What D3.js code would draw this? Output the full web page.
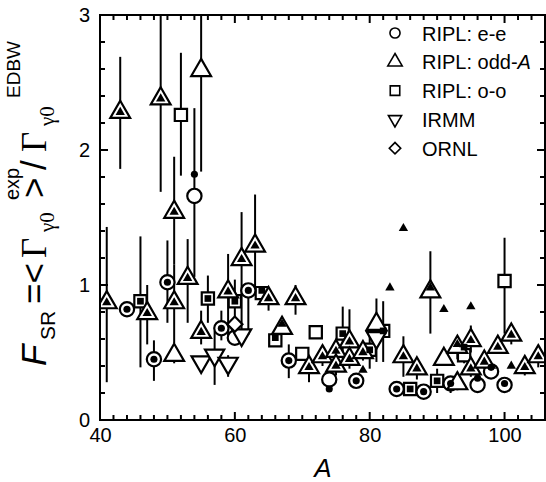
<!DOCTYPE html>
<html>
<head>
<meta charset="utf-8">
<script src="https://cdn.jsdelivr.net/npm/d3@7"></script>
<style>
  body { margin: 0; background: #fff; }
  svg { font-family: "Liberation Sans", Arial, Helvetica, sans-serif; }
</style>
</head>
<body>
<div id="vis"></div>
<script>
// RIPL e-e (open circles)
const EE_A  = [44, 48, 50, 54, 58, 60, 62, 68, 74, 78, 84, 88, 92, 96, 98, 100];
const EE_V  = [0.82, 0.45, 1.02, 1.66, 0.68, 0.61, 0.96, 0.44, 0.30, 0.29, 0.23, 0.21, 0.27, 0.26, 0.36, 0.26];
const EE_LO = [null, 0.29, 0.72, 1.06, 0.59, null, 0.63, 0.31, 0.23, 0.24, 0.19, 0.17, 0.20, null, 0.32, null];
const EE_HI = [null, 0.59, 1.33, 2.31, 0.81, null, 0.96, 0.56, 0.30, 0.33, 0.26, 0.23, 0.30, null, 0.39, null];

// RIPL odd-A (open triangles)
const ODD_A  = [41, 43, 47, 49, 51, 51, 51, 53, 55, 55, 59, 61, 63, 65, 67, 69, 71, 73, 75, 75, 77, 77, 79, 81, 85, 87, 89, 91, 93, 93, 95, 95, 97, 99, 101, 103, 105];
const ODD_V  = [0.87, 2.28, 0.79, 2.38, 1.54, 0.87, 0.48, 1.05, 2.59, 0.65, 0.95, 1.19, 1.29, 0.90, 0.68, 0.90, 0.39, 0.47, 0.51, 0.40, 0.58, 0.45, 0.50, 0.71, 0.47, 0.38, 0.95, 0.45, 0.54, 0.27, 0.59, 0.38, 0.43, 0.54, 0.63, 0.39, 0.47];
const ODD_LO = [0.28, 1.86, 0.56, 1.69, 1.15, 0.57, 0.42, 0.72, 1.84, 0.56, 0.62, 0.64, 0.94, 0.81, 0.68, 0.78, 0.28, 0.40, 0.42, 0.33, 0.45, 0.38, 0.44, 0.43, 0.32, 0.30, 0.64, 0.40, 0.45, 0.22, 0.50, 0.32, 0.38, 0.49, 0.56, 0.33, 0.39];
const ODD_HI = [1.43, 2.69, 1.00, 3.10, 1.95, 1.15, 0.48, 1.34, 3.10, 0.81, 1.23, 1.54, 1.67, 0.90, 0.77, 1.00, 0.39, 0.55, 0.60, 0.45, 0.82, 0.50, 0.56, 0.90, 0.62, 0.43, 1.25, 0.45, 0.57, 0.30, 0.70, 0.42, 0.45, 0.56, 0.63, 0.39, 0.50];

// RIPL o-o (open squares)
const OO_A  = [46, 52, 56, 60, 64, 66, 70, 72, 76, 80, 82, 86, 90, 94, 100];
const OO_V  = [0.88, 2.26, 0.90, 0.88, 0.94, 0.59, 0.49, 0.65, 0.64, 0.52, 0.66, 0.23, 0.29, 0.48, 1.03];
const OO_LO = [0.39, 1.81, 0.72, 0.74, null, null, null, 0.65, 0.45, 0.38, 0.43, null, 0.20, 0.42, 0.64];
const OO_HI = [1.36, 2.72, 1.07, 1.04, null, null, null, 0.70, 0.84, 0.62, 0.88, null, 0.38, 0.54, 1.35];

// IRMM (open down triangles)
const IRMM_A  = [55, 57, 59, 61, 81];
const IRMM_V  = [0.43, 0.48, 0.42, 0.63, 0.61];
const IRMM_LO = [null, 0.26, 0.32, null, null];
const IRMM_HI = [null, 0.66, 0.48, null, null];

// ORNL (open diamonds)
const ORNL_A = [60];
const ORNL_V = [0.71];

// small filled markers
const FTRI_A = [41, 43, 47, 49, 51, 51, 53, 55, 59, 61, 63, 65, 67, 69, 71, 73, 75, 75, 77, 77, 79, 79, 83, 85, 85, 87, 89, 91, 93, 95, 95, 95, 97, 99, 101, 101, 103, 105];
const FTRI_V = [0.87, 2.28, 0.79, 2.38, 1.54, 0.87, 1.05, 0.65, 0.95, 1.19, 1.29, 0.90, 0.71, 0.90, 0.39, 0.47, 0.51, 0.40, 0.58, 0.45, 0.50, 0.37, 0.98, 1.42, 0.47, 0.38, 0.98, 0.82, 0.56, 0.84, 0.59, 0.38, 0.43, 0.54, 0.63, 0.40, 0.39, 0.47];
const FCIR_A = [44, 48, 50, 54, 58, 62, 68, 74, 78, 84, 88, 92, 96, 98, 100];
const FCIR_V = [0.82, 0.45, 1.02, 1.82, 0.68, 0.96, 0.44, 0.23, 0.29, 0.23, 0.21, 0.27, 0.31, 0.39, 0.27];
const FSQ_A = [46, 56, 60, 64, 66, 76, 80, 82, 86, 90, 94];
const FSQ_V = [0.88, 0.90, 0.88, 0.96, 0.61, 0.64, 0.52, 0.66, 0.23, 0.29, 0.54];

const X_TICKS = [40, 60, 80, 100];
const Y_TICKS = [0, 1, 2, 3];
const LEGEND = ["RIPL: e-e", "RIPL: odd-", "RIPL: o-o", "IRMM", "ORNL"];

const WIDTH = 546, HEIGHT = 482;
const X = d3.scaleLinear().domain([40, 106]).range([100, 545]);
const Y = d3.scaleLinear().domain([0, 3]).range([420, 15]);

const svg = d3.select("#vis").append("svg")
  .attr("width", WIDTH).attr("height", HEIGHT);

svg.append("clipPath").attr("id", "clip")
  .append("rect").attr("x", 100).attr("y", 15).attr("width", 445).attr("height", 405);

const zip = (a, v, lo, hi) => a.map((d, i) => ({ a: d, v: v[i], lo: lo ? lo[i] : null, hi: hi ? hi[i] : null }));
const ee = zip(EE_A, EE_V, EE_LO, EE_HI);
const odd = zip(ODD_A, ODD_V, ODD_LO, ODD_HI);
const oo = zip(OO_A, OO_V, OO_LO, OO_HI);
const irmm = zip(IRMM_A, IRMM_V, IRMM_LO, IRMM_HI);
const ornl = zip(ORNL_A, ORNL_V);

const plot = svg.append("g").attr("clip-path", "url(#clip)");

// error bars
const bars = [].concat(ee, odd, oo, irmm).filter(d => d.lo !== null);
plot.selectAll("line.err").data(bars).enter().append("line")
  .attr("x1", d => X(d.a)).attr("x2", d => X(d.a))
  .attr("y1", d => Y(d.lo)).attr("y2", d => Y(d.hi))
  .attr("stroke", "#000").attr("stroke-width", 2);

const sym = (type, size) => d3.symbol().type(type).size(size)();

function openMarks(data, type, size, rot) {
  plot.append("g").selectAll("path").data(data).enter().append("path")
    .attr("d", sym(type, size))
    .attr("transform", d => `translate(${X(d.a)},${Y(d.v)}) rotate(${rot})`)
    .attr("fill", "#fff").attr("stroke", "#000").attr("stroke-width", 2.2);
}
function filledMarks(a, v, type, size) {
  plot.append("g").selectAll("path").data(a).enter().append("path")
    .attr("d", sym(type, size))
    .attr("transform", (d, i) => `translate(${X(d)},${Y(v[i])})`)
    .attr("fill", "#000");
}

openMarks(oo, d3.symbolSquare, 150, 0);
openMarks(ee, d3.symbolCircle, 160, 0);
openMarks(irmm, d3.symbolTriangle, 160, 180);
openMarks(ornl, d3.symbolSquare, 115, 45);
openMarks(odd, d3.symbolTriangle, 170, 0);

filledMarks(FSQ_A, FSQ_V, d3.symbolSquare, 45);
filledMarks(FCIR_A, FCIR_V, d3.symbolCircle, 40);
filledMarks(FTRI_A, FTRI_V, d3.symbolTriangle, 38);

// axes: labels from d3 axes, inward ticks on all four sides
const axes = svg.append("g");
function labels(gen, tx, ty, vals, pad) {
  const g = axes.append("g").attr("transform", `translate(${tx},${ty})`)
    .call(gen.tickValues(vals).tickSize(0).tickPadding(pad).tickFormat(d3.format("d")));
  g.select(".domain").remove();
  g.selectAll("line").remove();
  g.selectAll("text").attr("font-size", 20).attr("fill", "#000")
    .attr("font-family", "Liberation Sans, Arial, sans-serif");
}
labels(d3.axisBottom(X), 0, 420, X_TICKS, 8);
labels(d3.axisLeft(Y), 100, 0, Y_TICKS, 10);

const X_MINOR = d3.range(42, 106, 2).filter(d => d % 20 !== 0);
const Y_MINOR = d3.range(1, 15).map(i => i * 0.2).filter(v => Math.abs(v - Math.round(v)) > 0.01);
function xTicks(vals, len) {
  const g = axes.append("g").attr("stroke", "#000").attr("stroke-width", 2);
  g.selectAll("line.b").data(vals).enter().append("line")
    .attr("x1", d => X(d)).attr("x2", d => X(d)).attr("y1", Y(0)).attr("y2", Y(0) - len);
  g.selectAll("line.t").data(vals).enter().append("line")
    .attr("x1", d => X(d)).attr("x2", d => X(d)).attr("y1", Y(3)).attr("y2", Y(3) + len);
}
function yTicks(vals, len) {
  const g = axes.append("g").attr("stroke", "#000").attr("stroke-width", 2);
  g.selectAll("line.l").data(vals).enter().append("line")
    .attr("y1", d => Y(d)).attr("y2", d => Y(d)).attr("x1", X(40)).attr("x2", X(40) + len);
  g.selectAll("line.r").data(vals).enter().append("line")
    .attr("y1", d => Y(d)).attr("y2", d => Y(d)).attr("x1", X(106)).attr("x2", X(106) - len);
}
xTicks(X_TICKS, 8);
xTicks(X_MINOR, 5);
yTicks(Y_TICKS, 8);
yTicks(Y_MINOR, 5);

svg.append("rect").attr("x", 100).attr("y", 15).attr("width", 445).attr("height", 405)
  .attr("fill", "none").attr("stroke", "#000").attr("stroke-width", 2);

// axis titles
svg.append("text").attr("x", 323).attr("y", 477).attr("text-anchor", "middle")
  .attr("font-size", 26).attr("font-style", "italic").text("A");

const yt = svg.append("text").attr("transform", "translate(46,366) rotate(-90)")
  .attr("font-size", 35);
const part = (txt, x, y, size, serif, italic) => {
  const t = yt.append("tspan").attr("x", x).attr("y", y).text(txt);
  if (size) t.attr("font-size", size);
  if (serif) t.attr("font-family", "Liberation Serif");
  if (italic) t.attr("font-style", "italic");
};
part("F", 0, 0, null, false, true);
part("SR", 26, 9, 21);
part("=<", 62, 0);
part("Γ", 108, 0, null, true);
part("γ0", 134, 8, 21, true);
part("exp", 166, -27, 20);
part(">", 168, 0);
part("/", 196, 0);
part("Γ", 214, 0, null, true);
part("γ0", 240, 8, 21, true);
part("EDBW", 268, -26, 19);

// legend
const LEG_SYM = [
  { t: d3.symbolCircle, s: 80, r: 0 },
  { t: d3.symbolTriangle, s: 90, r: 0 },
  { t: d3.symbolSquare, s: 90, r: 0 },
  { t: d3.symbolTriangle, s: 75, r: 180 },
  { t: d3.symbolSquare, s: 65, r: 45 }
];
const leg = svg.append("g").selectAll("g").data(LEGEND).enter().append("g")
  .attr("transform", (d, i) => `translate(395,${33 + i * 28.8})`);
leg.append("path")
  .attr("d", (d, i) => sym(LEG_SYM[i].t, LEG_SYM[i].s))
  .attr("transform", (d, i) => `rotate(${LEG_SYM[i].r})`)
  .attr("fill", "none").attr("stroke", "#000").attr("stroke-width", 1.6);
const lt = leg.append("text").attr("x", 27).attr("y", 7.5).attr("font-size", 20).text(d => d);
lt.filter((d, i) => i === 1).append("tspan").attr("font-style", "italic").text("A");
</script>
</body>
</html>
